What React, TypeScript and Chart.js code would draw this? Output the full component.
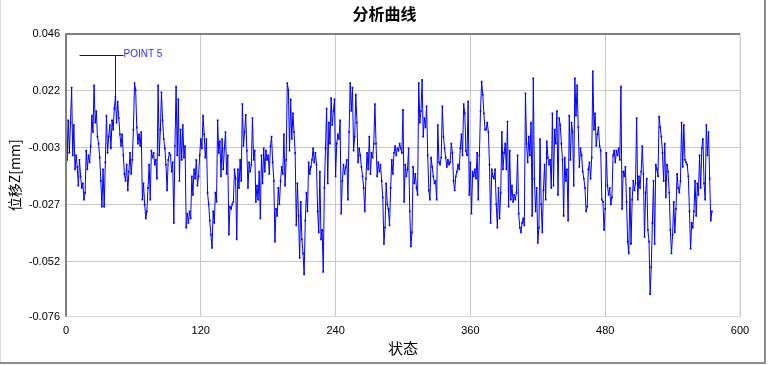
import React, { useEffect, useRef } from 'react';
import { Chart, registerables } from 'chart.js';

Chart.register(...registerables);

const TITLE = '分析曲线';
const X_TITLE = '状态';
const Y_TITLE = '位移Z[mm]';
const X_MIN = 0;
const X_MAX = 600;
const X_TICKS = [0, 120, 240, 360, 480, 600];
const Y_MAX = 0.046;
const Y_MIN = -0.0751;
const Y_TICK_VALUES = [0.046, 0.0216, -0.0028, -0.0272, -0.0516, -0.0751];
const Y_TICK_LABELS = ['0.046', '0.022', '-0.003', '-0.027', '-0.052', '-0.076'];
const MARKER_INDEX = 44;
const MARKER_LABEL = 'POINT 5';

// displacement per state (index 0..575)
const DISPLACEMENT = [
  0.0277, -0.0080, 0.0090, -0.0050, 0.0080, 0.0230, -0.0060, 0.0070, -0.0120, -0.0060,
  -0.0110, -0.0190, -0.0080, -0.0150, -0.0200, -0.0180, -0.0250, -0.0220, -0.0040, -0.0120,
  -0.0060, -0.0090, -0.0020, 0.0110, 0.0040, 0.0240, 0.0080, 0.0130, 0.0020, -0.0010,
  -0.0070, -0.0170, -0.0280, -0.0120, -0.0280, -0.0090, 0.0110, -0.0050, 0.0020, 0.0070,
  -0.0030, 0.0090, 0.0050, 0.0140, 0.0190, 0.0080, 0.0170, 0.0100, 0.0030, -0.0020,
  0.0030, -0.0060, -0.0140, -0.0170, -0.0100, -0.0210, -0.0130, -0.0050, -0.0140, -0.0080,
  0.0050, 0.0250, 0.0220, 0.0060, -0.0010, 0.0030, -0.0020, 0.0040, -0.0250, -0.0180,
  -0.0270, -0.0330,
  -0.0300, -0.0200, -0.0100, -0.0250, -0.0040, -0.0070, -0.0050, -0.0100, -0.0080, -0.0160,
  0.0240, -0.0060, 0.0050, 0.0210, 0.0090, 0.0010, -0.0030, -0.0100, -0.0210, -0.0080,
  -0.0050, -0.0060, -0.0130, -0.0090, -0.0350, -0.0020, 0.0235, -0.0060, 0.0180, -0.0170,
  0.0050, -0.0080, 0.0070, -0.0070, -0.0020, -0.0370, -0.0310, -0.0350, -0.0300, -0.0330,
  -0.0150, -0.0230, -0.0120, -0.0160, -0.0080, -0.0190, -0.0150, -0.0060, 0.0010, -0.0030,
  0.0110, 0.0030, -0.0070, 0.0010, -0.0220, -0.0270, -0.0340, -0.0400, -0.0457, -0.0300,
  -0.0350, -0.0220, -0.0260, 0.0090, -0.0050, 0.0000, -0.0150, 0.0010, -0.0120, -0.0030,
  0.0040, -0.0140, -0.0060, -0.0400, -0.0280,
  -0.0290, -0.0270, -0.0260, -0.0120, -0.0160, -0.0420, -0.0120, -0.0200, -0.0080, -0.0170,
  0.0160, -0.0020, 0.0040, 0.0113, -0.0040, -0.0200, -0.0090, -0.0130, -0.0100, 0.0100,
  -0.0080, -0.0040, -0.0260, -0.0190, -0.0250, -0.0130, -0.0330, -0.0060, -0.0180, -0.0030,
  -0.0130, -0.0040, -0.0080, -0.0060, -0.0140, -0.0020, 0.0020, -0.0090, -0.0170, -0.0430,
  -0.0290, -0.0320, -0.0200, -0.0270, -0.0170, -0.0110, -0.0140, 0.0030, -0.0190, -0.0080,
  0.0249, 0.0220, -0.0040, 0.0180, 0.0010, 0.0120, 0.0040, -0.0050, -0.0360, -0.0180,
  -0.0320, -0.0500, -0.0260, -0.0420, -0.0480, -0.0570, -0.0340, -0.0220, -0.0300, -0.0090,
  -0.0140, -0.0110, -0.0080, -0.0030, -0.0090, -0.0050,
  -0.0100, -0.0300, -0.0390, -0.0130, -0.0420, -0.0380, -0.0560, -0.0200, -0.0030, 0.0140,
  -0.0180, 0.0080, -0.0010, 0.0185, 0.0070, 0.0130, 0.0180, -0.0150, -0.0010, 0.0030,
  0.0010, 0.0090, -0.0310, -0.0170, -0.0100, -0.0140, -0.0110, -0.0080, -0.0250, 0.0040,
  0.0250, 0.0130, 0.0230, -0.0040, 0.0020, 0.0200, 0.0080, -0.0090, -0.0030, -0.0060,
  -0.0110, -0.0150, -0.0200, -0.0300, -0.0160, -0.0050, -0.0120, 0.0020, -0.0140, -0.0050,
  -0.0070, -0.0010, 0.0160, -0.0010, -0.0150, -0.0090, -0.0130, -0.0100, -0.0170, -0.0240,
  -0.0440, -0.0370, -0.0180, -0.0270, -0.0290, -0.0360, -0.0200, -0.0080, -0.0140, -0.0050,
  -0.0020, -0.0060, -0.0030, -0.0040, -0.0010,
  -0.0030, -0.0050, 0.0135, -0.0260, -0.0100, -0.0150, -0.0120, -0.0030, -0.0300, -0.0450,
  -0.0390, -0.0110, -0.0180, -0.0140, -0.0200, -0.0230, 0.0250, 0.0080, 0.0130, 0.0263,
  0.0020, 0.0100, 0.0060, 0.0150, -0.0060, -0.0210, -0.0250, -0.0070, -0.0110, -0.0150,
  -0.0180, -0.0170, -0.0250, 0.0070, -0.0090, -0.0100, -0.0070, 0.0150, 0.0020, -0.0030,
  -0.0070, -0.0110, -0.0080, -0.0100, -0.0090, -0.0010, -0.0050, -0.0170, -0.0210, -0.0150,
  -0.0130, -0.0100, -0.0120, -0.0030, 0.0030, -0.0060, 0.0160, 0.0120, -0.0040, -0.0060,
  0.0170, -0.0230, -0.0090, -0.0310, -0.0130, -0.0150, -0.0120, -0.0160, -0.0050, -0.0250,
  -0.0060, 0.0130, 0.0256, 0.0200, 0.0120, 0.0050,
  0.0050, 0.0080, 0.0040, -0.0100, -0.0350, -0.0120, -0.0150, -0.0160, -0.0120, -0.0270,
  -0.0370, -0.0200, -0.0330, -0.0220, 0.0040, -0.0120, -0.0050, -0.0010, -0.0120, 0.0085,
  -0.0280, -0.0040, -0.0250, -0.0190, -0.0260, -0.0230, -0.0250, -0.0220, -0.0060, -0.0310,
  -0.0370, -0.0390, -0.0350, -0.0330, -0.0360, 0.0206, -0.0010, -0.0090, 0.0020, -0.0060,
  0.0080, -0.0320, 0.0270, -0.0160, -0.0300, -0.0200, -0.0436, -0.0370, 0.0010, -0.0270,
  -0.0390, -0.0210, -0.0100, -0.0250, 0.0000, -0.0070, -0.0100, -0.0080, -0.0200, 0.0120,
  -0.0190, 0.0050, -0.0010, 0.0130, -0.0230, 0.0100, 0.0070, -0.0010, -0.0080, -0.0320,
  -0.0070, -0.0170, -0.0120, -0.0340, 0.0110,
  -0.0080, 0.0080, 0.0040, -0.0190, 0.0270, 0.0110, 0.0240, 0.0060, -0.0110, -0.0030,
  -0.0060, -0.0130, -0.0160, -0.0200, -0.0300, -0.0280, -0.0120, -0.0090, -0.0160, -0.0070,
  0.0300, 0.0050, 0.0120, -0.0020, 0.0030, 0.0060, -0.0020, -0.0040, -0.0250, -0.0260,
  -0.0380, -0.0290, -0.0050, -0.0190, -0.0230, -0.0200, -0.0270, -0.0240, -0.0060, -0.0040,
  -0.0090, -0.0040, -0.0060, -0.0030, -0.0080, 0.0235, -0.0290, -0.0130, -0.0150, -0.0110,
  -0.0260, -0.0430, -0.0480, -0.0200, -0.0440, -0.0250, -0.0170, -0.0210, -0.0180, 0.0100,
  -0.0250, -0.0150, -0.0200, -0.0130, -0.0020, -0.0140, -0.0410, -0.0220, -0.0160, -0.0380,
  -0.0430, -0.0655, -0.0540, -0.0350, -0.0170, -0.0440,
  -0.0100, -0.0120, -0.0150, 0.0106, 0.0060, 0.0020, -0.0050, -0.0170, -0.0010, -0.0240,
  -0.0100, -0.0130, -0.0220, -0.0380, -0.0480, -0.0400, -0.0260, -0.0390, -0.0290, -0.0140,
  -0.0200, -0.0220, -0.0170, 0.0080, -0.0110, 0.0070, -0.0080, -0.0090, -0.0100, -0.0150,
  -0.0300, -0.0460, -0.0350, -0.0370, -0.0300, -0.0170, -0.0320, -0.0180, -0.0230, -0.0060,
  -0.0200, -0.0030, 0.0010, -0.0180, -0.0250, 0.0070, -0.0060, 0.0040, -0.0160, -0.0340,
  -0.0300,
];

const LINE_COLOR = '#0000ff';
const GRID_COLOR = '#c8c8c8';
const TICK_FONT = { family: '"Liberation Sans", Arial, sans-serif', size: 11 };
const CJK = '"Noto Sans CJK SC", "Noto Sans", sans-serif';

const decorPlugin = {
  id: 'decor',
  beforeDraw(chart: any) {
    const { ctx, width, height } = chart;
    ctx.save();
    ctx.fillStyle = '#ffffff';
    ctx.fillRect(0, 0, width, height);
    // outer frame
    ctx.fillStyle = '#dcdcdc';
    ctx.fillRect(0, 0, 1, height - 2);
    ctx.fillStyle = '#8c8c8c';
    ctx.fillRect(764, 0, 2, 364);
    ctx.fillRect(0, 362, 766, 2);
    ctx.restore();
  },
  afterDatasetsDraw(chart: any) {
    const { ctx, chartArea: a } = chart;
    ctx.save();
    // plot border
    ctx.fillStyle = '#d8d8d8';
    ctx.fillRect(a.right - 0.5, a.top, 1, a.bottom - a.top);
    ctx.fillRect(a.left, a.bottom - 0.5, a.right - a.left, 1);
    ctx.fillStyle = '#808080';
    ctx.fillRect(a.left - 1, a.top - 1, a.right - a.left + 1, 2);
    ctx.fillRect(a.left - 1, a.top - 1, 2, a.bottom - a.top + 1);
    // marker annotation
    const meta = chart.getDatasetMeta(0);
    const pt = meta.data[MARKER_INDEX];
    if (pt) {
      const ly = Math.round(a.top + 21) + 0.5;
      const px = Math.round(pt.x) + 0.5;
      ctx.strokeStyle = LINE_COLOR;
      ctx.lineWidth = 1;
      ctx.beginPath();
      ctx.moveTo(px - 36, ly);
      ctx.lineTo(px + 8, ly);
      ctx.moveTo(px, ly);
      ctx.lineTo(px, pt.y);
      ctx.stroke();
      ctx.fillStyle = '#2a2aff';
      ctx.font = '10px "Liberation Sans", Arial, sans-serif';
      ctx.textBaseline = 'middle';
      ctx.textAlign = 'left';
      ctx.fillText(MARKER_LABEL, px + 8, ly - 1);
    }
    ctx.restore();
  },
};

export default function App() {
  const ref = useRef<HTMLCanvasElement | null>(null);

  useEffect(() => {
    const canvas = ref.current;
    if (!canvas) return;
    const points = DISPLACEMENT.map((v, i) => ({ x: i, y: v }));
    const chart = new Chart(canvas, {
      type: 'line',
      data: {
        datasets: [
          {
            data: points,
            borderColor: LINE_COLOR,
            backgroundColor: LINE_COLOR,
            borderWidth: 1,
            pointRadius: 1.2,
            pointStyle: 'rect',
            pointBorderWidth: 0,
            tension: 0,
            fill: false,
          },
        ],
      },
      plugins: [decorPlugin],
      options: {
        responsive: false,
        animation: false,
        devicePixelRatio: 1,
        layout: { padding: { left: 0, right: 0, top: 0, bottom: 0 } },
        plugins: {
          legend: { display: false },
          tooltip: { enabled: false },
          title: {
            display: true,
            text: TITLE,
            color: '#000000',
            font: { family: CJK, size: 16, weight: 'bold' },
            padding: { top: 4, bottom: 10.8 },
          },
        },
        scales: {
          x: {
            type: 'linear',
            min: X_MIN,
            max: X_MAX,
            afterBuildTicks: (s: any) => {
              s.ticks = X_TICKS.map((v) => ({ value: v }));
            },
            afterFit: (s: any) => {
              s.height = 48.5;
            },
            grid: { color: GRID_COLOR, drawTicks: false, lineWidth: 1 },
            border: { display: false },
            ticks: {
              color: '#000000',
              font: TICK_FONT,
              padding: 8,
              maxRotation: 0,
              autoSkip: false,
              callback: (v: any) => String(v),
            },
            title: {
              display: true,
              text: X_TITLE,
              color: '#000000',
              font: { family: CJK, size: 15 },
              padding: { top: 0, bottom: 8 },
            },
          },
          y: {
            type: 'linear',
            min: Y_MIN,
            max: Y_MAX,
            afterBuildTicks: (s: any) => {
              s.ticks = Y_TICK_VALUES.map((v) => ({ value: v }));
            },
            afterFit: (s: any) => {
              s.width = 66;
            },
            grid: { color: GRID_COLOR, drawTicks: false, lineWidth: 1 },
            border: { display: false },
            ticks: {
              color: '#000000',
              font: TICK_FONT,
              padding: 6,
              autoSkip: false,
              callback: (v: any, i: number) => Y_TICK_LABELS[i] ?? String(v),
            },
            title: {
              display: true,
              text: Y_TITLE,
              color: '#000000',
              font: { family: CJK, size: 14 },
              padding: { top: 6.6, bottom: 0 },
            },
          },
          yRight: {
            type: 'linear',
            position: 'right',
            display: true,
            afterFit: (s: any) => {
              s.width = 29;
            },
            grid: { display: false, drawTicks: false },
            border: { display: false },
            ticks: { display: false },
          },
        },
      },
    } as any);
    return () => chart.destroy();
  }, []);

  return (
    <canvas
      ref={ref}
      width={769}
      height={365}
      style={{ position: 'absolute', left: 0, top: 0, width: 769, height: 365, display: 'block' }}
    />
  );
}
